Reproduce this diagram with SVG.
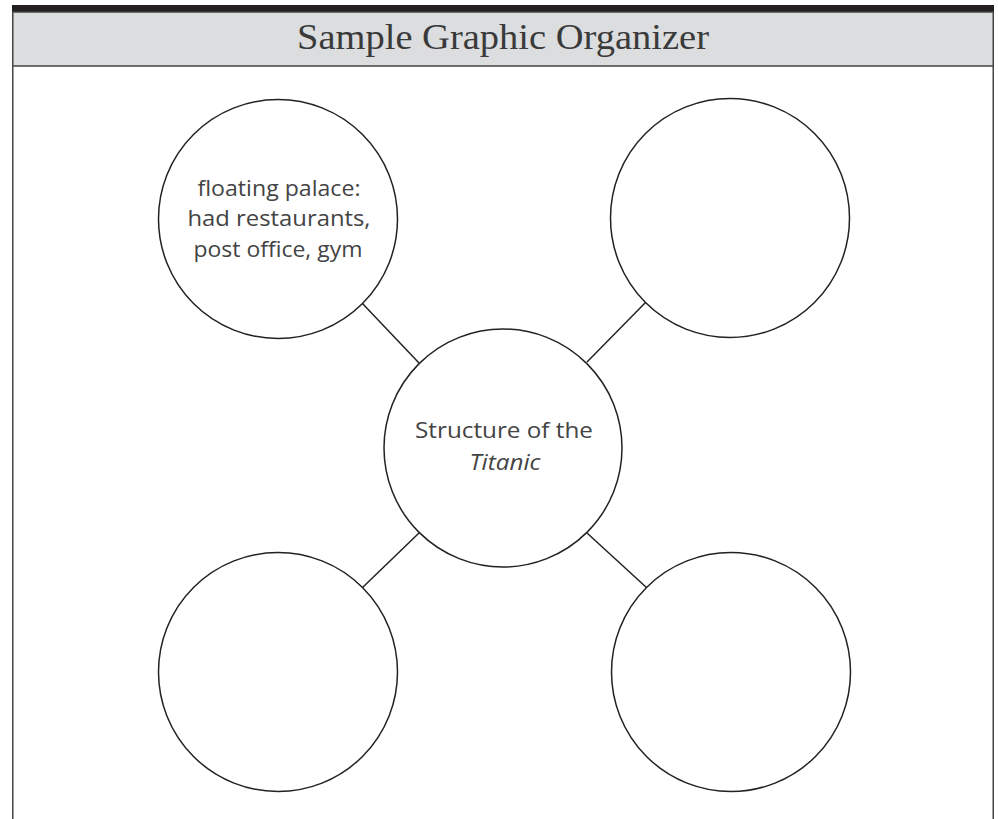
<svg xmlns="http://www.w3.org/2000/svg" width="998" height="819" viewBox="0 0 998 819">
<style>
.node circle{fill:#fff;stroke:#222;stroke-width:1.5}
.conn line{stroke:#222;stroke-width:1.5}
.hand{font-family:"Open Sans","Liberation Sans",sans-serif;font-size:21px;fill:#444;text-anchor:middle}
.title{font-family:"Liberation Serif",serif;font-size:36px;fill:#3a3a3a;text-anchor:middle}
</style>
<rect x="0" y="0" width="998" height="819" fill="#fff"/>
<rect x="12" y="5" width="982" height="7" fill="#231f20"/>
<rect x="12.75" y="12" width="980.5" height="54" fill="#dcdddf" stroke="#444" stroke-width="1.5"/>
<line x1="12.75" y1="66" x2="12.75" y2="819" stroke="#444" stroke-width="1.5"/>
<line x1="993.25" y1="66" x2="993.25" y2="819" stroke="#444" stroke-width="1.5"/>
<text class="title" x="503" y="49" textLength="412" lengthAdjust="spacingAndGlyphs">Sample Graphic Organizer</text>
<g class="conn" id="connectors">
<line x1="362" y1="303" x2="419" y2="363"/>
<line x1="646" y1="302" x2="587" y2="362"/>
<line x1="419" y1="533" x2="362" y2="588"/>
<line x1="587" y1="533" x2="647" y2="588"/>
</g>
<g class="node" id="node-center">
<circle cx="503" cy="448" r="119"/>
<text class="hand" x="504" y="438" textLength="178" lengthAdjust="spacingAndGlyphs">Structure of the</text>
<text class="hand" x="505" y="470" font-style="italic" textLength="71" lengthAdjust="spacingAndGlyphs">Titanic</text>
</g>
<g class="node" id="node-tl">
<circle cx="278" cy="219" r="119.5"/>
<text class="hand" x="279" y="196" textLength="163" lengthAdjust="spacingAndGlyphs">floating palace:</text>
<text class="hand" x="279" y="226" textLength="183" lengthAdjust="spacingAndGlyphs">had restaurants,</text>
<text class="hand" x="278" y="257" textLength="169" lengthAdjust="spacingAndGlyphs">post office, gym</text>
</g>
<g class="node" id="node-tr"><circle cx="730" cy="218" r="119.5"/></g>
<g class="node" id="node-bl"><circle cx="278" cy="672" r="119.5"/></g>
<g class="node" id="node-br"><circle cx="731" cy="672" r="119.5"/></g>
</svg>
